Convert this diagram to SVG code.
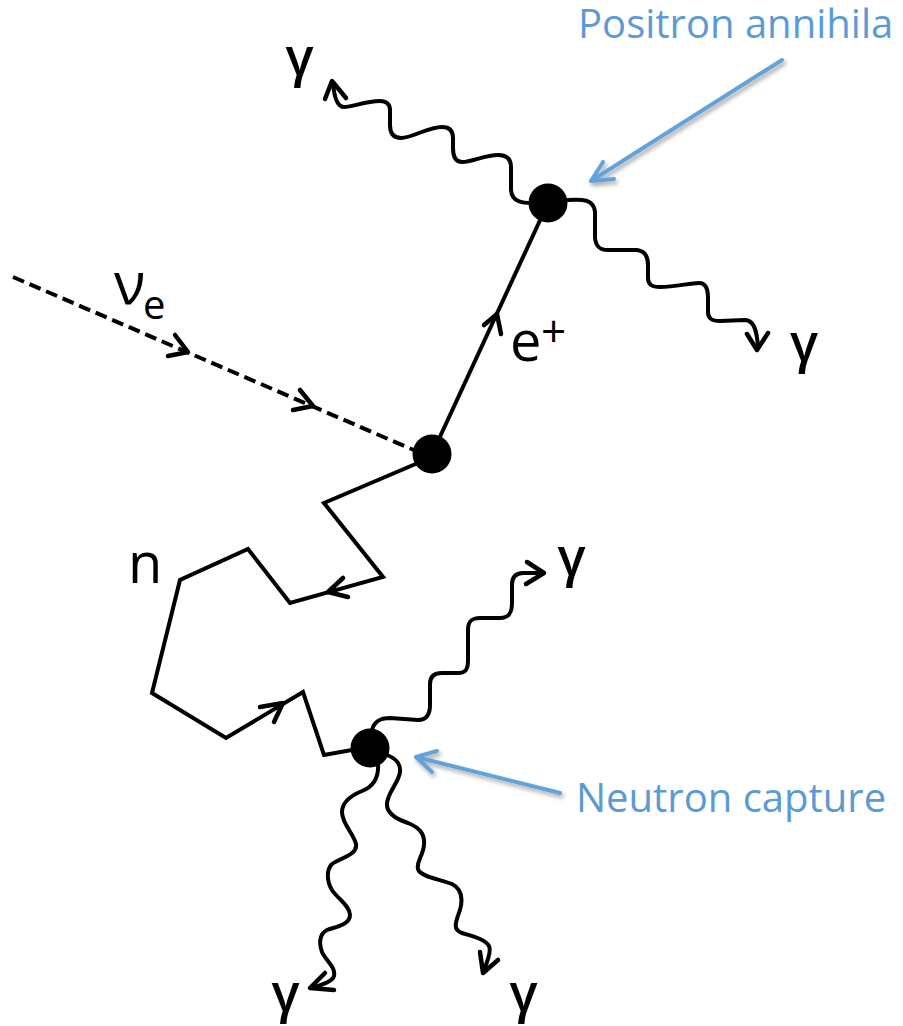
<svg xmlns="http://www.w3.org/2000/svg" width="903" height="1026" viewBox="0 0 903 1026">
<style>
.ln{fill:none;stroke:#000;stroke-width:4;stroke-linejoin:miter}
.wv{fill:none;stroke:#000;stroke-width:4;stroke-linecap:round;stroke-linejoin:round}
.ah{fill:none;stroke:#000;stroke-width:4.5;stroke-linecap:round;stroke-linejoin:round}
.dash{fill:none;stroke:#000;stroke-width:4;stroke-dasharray:12 6}
.dot{fill:#000}
.lbl{font-family:"Open Sans","Liberation Sans",sans-serif;fill:#000}
.g{font-weight:600}
.blue{font-family:"Open Sans","Liberation Sans",sans-serif;fill:#5B9BD5;font-size:40px}
.bl{fill:none;stroke:#64A3DA;stroke-width:4;stroke-linecap:round;stroke-linejoin:round}
</style>
<defs>
<filter id="sh" x="-20%" y="-20%" width="140%" height="140%">
<feDropShadow dx="2" dy="3" stdDeviation="2" flood-color="#000" flood-opacity="0.35"/>
</filter>
</defs>
<rect width="903" height="1026" fill="#fff"/>
<g id="connectors">
<path class="dash" d="M13,277 L416,451"/>
<polyline class="ah" points="175,335 188,352 168,356"/>
<polyline class="ah" points="300,390 313,406 293,410"/>
<path class="ln" d="M548,203 L432,454"/>
<polyline class="ah" points="484,325 497,314 501,334"/>
<polyline class="ln" points="432,457 324,503 383,577 290,603 248,549 180,580 152,693 226,738 303,692 324,755 352,750"/>
<polyline class="ah" points="343,578 328,592 348,597"/>
<polyline class="ah" points="260,707 283,703 274,722"/>
<path class="wv" d="M533,203 C522,203 512,202 511,190 L511,167 C511,158 506,155 498,155 C485,155 472,162 462,162 C455,162 453,156 453,148 L453,138 C453,131 450,127 442,127 C428,127 412,138 401,138 C393,138 390,133 390,125 L390,110 C390,104 386,101 380,101 C365,101 353,107 344,107 C337,107 334,95 333,83"/>
<polyline class="ah" points="325,99 332,81 346,98"/>
<path class="wv" d="M568,200 C582,199 594,199 595,212 L595,238 C596,247 600,250 608,250 L637,250 C645,251 648,256 648,265 L648,278 C648,285 652,287 660,287 C675,287 690,283 699,283 C706,283 708,290 708,298 L708,312 C708,319 712,321 720,321 L745,320 C753,320 757,328 758,348"/>
<polyline class="ah" points="747,334 757,350 768,333"/>
<path class="wv" d="M372,730 C374,722 379,718 390,718 L418,720 C427,720 430,714 430,705 L430,684 C430,677 434,673 442,673 L458,673 C466,673 468,669 468,660 L468,630 C468,622 471,618 480,618 L500,618 C509,618 512,613 512,603 L512,585 C512,578 515,573 523,573 L543,573"/>
<polyline class="ah" points="527,562 544,573 526,584"/>
<path class="wv" d="M378,763 C379,776 375,786 362,791 C350,796 342,802 342,812 C342,824 354,834 356,844 C358,855 340,858 332,864 C326,870 327,882 332,890 C338,899 350,906 350,915 C350,925 335,927 327,930 C319,934 319,944 322,952 C326,961 336,967 334,976 C333,981 320,986 311,988"/>
<polyline class="ah" points="325,973 310,988 334,990"/>
<path class="wv" d="M387,755 C395,758 401,764 400,772 C399,782 388,792 387,803 C386,813 396,819 408,823 C420,828 425,834 424,845 C423,856 416,862 418,869 C420,877 440,879 452,884 C462,889 463,899 460,910 C456,921 452,930 462,933 C472,936 485,939 489,946 C492,952 486,965 483,972"/>
<polyline class="ah" points="480,952 483,973 498,960"/>
<g filter="url(#sh)">
<path class="bl" d="M782,60 L591,181"/>
<polyline class="bl" points="603,162 591,181 614,179"/>
<path class="bl" d="M560,793 L416,757"/>
<polyline class="bl" points="437,751 416,757 432,772"/>
</g>
</g>
<g id="vertex-annihilation"><circle class="dot" cx="548" cy="203" r="19.5"/></g>
<g id="vertex-interaction"><circle class="dot" cx="432" cy="454" r="19.5"/></g>
<g id="vertex-capture"><circle class="dot" cx="370" cy="748" r="19.5"/></g>
<g id="labels">
<text class="lbl" x="114" y="304" font-size="58">ν</text>
<text class="lbl" x="143" y="319" font-size="40">e</text>
<text class="lbl" x="510" y="361" font-size="56">e</text>
<text class="lbl" x="541" y="347" font-size="44">+</text>
<text class="lbl" x="128" y="583" font-size="56">n</text>
<text class="lbl g" x="299.5" y="75" font-size="52" text-anchor="middle">γ</text>
<text class="lbl g" x="804" y="361" font-size="52" text-anchor="middle">γ</text>
<text class="lbl g" x="571.5" y="575" font-size="52" text-anchor="middle">γ</text>
<text class="lbl g" x="285.5" y="1011" font-size="52" text-anchor="middle">γ</text>
<text class="lbl g" x="523.5" y="1011" font-size="52" text-anchor="middle">γ</text>
</g>
<g id="callout-positron"><text class="blue" x="578" y="38">Positron annihila</text></g>
<g id="callout-neutron"><text class="blue" x="576" y="812">Neutron capture</text></g>
</svg>
